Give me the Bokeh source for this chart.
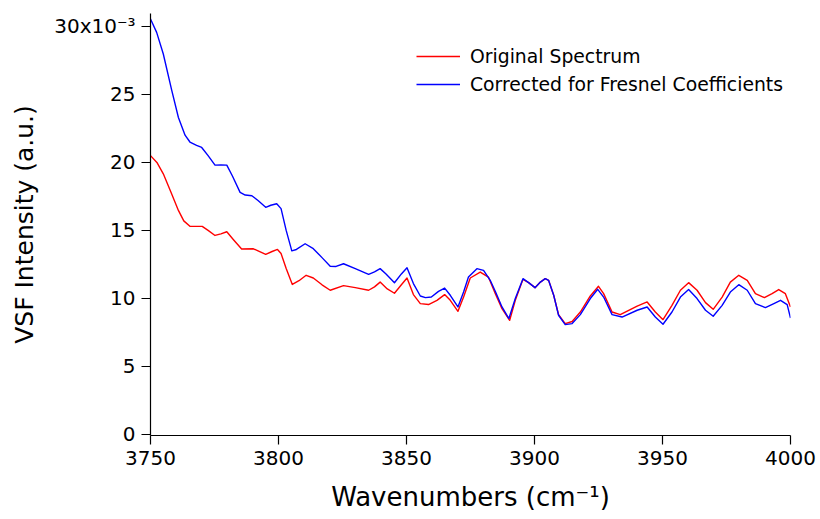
from bokeh.plotting import figure
from bokeh.models import Range1d, Legend, LegendItem, FixedTicker
from bokeh.embed import file_html
from bokeh.resources import INLINE

# Wavenumber (cm^-1) and VSF intensity (x10^-3)
x_corr = [3750, 3752.4, 3755, 3758.3, 3760.9, 3763.5, 3765.4, 3768, 3770, 3772.5, 3775.2, 3777.5,
          3779.8, 3782, 3785, 3787, 3789.6, 3792, 3795, 3797, 3799.3, 3801, 3803, 3805.2, 3807,
          3810.4, 3813.6, 3817, 3820.2, 3822.5, 3825.4, 3830, 3835.2, 3837.5, 3839.7, 3842,
          3845.3, 3848, 3850.2, 3852.7, 3855.4, 3857.4, 3859.7, 3862.5, 3864.9, 3867.1, 3870.1,
          3872.3, 3874.2, 3877.5, 3880.1, 3882.7, 3884.8, 3887.3, 3890, 3892.5, 3895.5, 3897.7,
          3900.2, 3902.3, 3904.2, 3905.5, 3907.5, 3909.4, 3912, 3914.7, 3917.9, 3921.8, 3924.7,
          3927, 3930.3, 3934.2, 3940.1, 3944, 3947.2, 3950.2, 3953.7, 3957, 3960.2, 3963.5,
          3966.8, 3969.8, 3973.3, 3976.5, 3979.8, 3983.1, 3986.3, 3990.2, 3993.5, 3996.1,
          3998.7, 4000]
y_corr = [30.55, 29.56, 27.97, 25.3, 23.3, 22.0, 21.5, 21.25, 21.1, 20.5, 19.8, 19.82,
          19.8, 19.0, 17.8, 17.6, 17.55, 17.2, 16.7, 16.85, 16.96, 16.6, 15.0, 13.5, 13.6,
          14.02, 13.66, 13.0, 12.36, 12.35, 12.55, 12.19, 11.77, 11.95, 12.19, 11.8,
          11.15, 11.8, 12.26, 11.09, 10.18, 10.06, 10.1, 10.52, 10.76, 10.23, 9.37,
          10.47, 11.57, 12.19, 12.06, 11.33, 10.47, 9.37, 8.52, 9.99, 11.45, 11.16,
          10.79, 11.2, 11.45, 11.33, 10.23, 8.76, 8.07, 8.15, 8.81, 9.99, 10.67,
          10.1, 8.81, 8.63, 9.13, 9.37, 8.63, 8.1, 9.0, 10.1, 10.65, 9.99,
          9.13, 8.69, 9.49, 10.47, 11.01, 10.6, 9.62, 9.32, 9.62, 9.86,
          9.54, 8.56]

x_orig = [3750, 3752.5, 3755, 3758, 3760.9, 3763, 3765.4, 3768, 3770.2, 3772.5, 3775.2, 3777.5,
          3779.8, 3782.5, 3785.6, 3790.2, 3795, 3797.5, 3799.6, 3801, 3803, 3805.4, 3808,
          3810.8, 3813.6, 3817, 3820.2, 3825.4, 3830, 3835.2, 3837.5, 3839.7, 3842.5, 3845.3,
          3848, 3850.2, 3852.7, 3855.4, 3858.6, 3861.9, 3864.9, 3867.1, 3870.1, 3872.3, 3874.9,
          3878.8, 3882, 3884.7, 3887.3, 3890.3, 3892.5, 3895.5, 3897.7, 3900.2, 3902.3, 3904.2,
          3905.5, 3907.5, 3909.4, 3912, 3914.7, 3917.9, 3921.8, 3925, 3927, 3930.3, 3933.5,
          3940.1, 3944, 3947.2, 3950.2, 3953.7, 3957, 3960.2, 3963.5, 3966.8, 3969.8, 3973.3,
          3976.5, 3979.8, 3983.1, 3986.3, 3989.8, 3992.8, 3995.4, 3998, 4000]
y_orig = [20.5, 20.0, 19.16, 17.8, 16.47, 15.7, 15.3, 15.3, 15.3, 15.0, 14.63, 14.75,
          14.9, 14.3, 13.63, 13.65, 13.24, 13.45, 13.6, 13.3, 12.2, 11.03, 11.3,
          11.7, 11.5, 11.0, 10.6, 10.94, 10.79, 10.6, 10.85, 11.2, 10.7, 10.38,
          11.0, 11.5, 10.28, 9.62, 9.55, 9.86, 10.28, 9.86, 9.05, 10.1, 11.5,
          11.94, 11.57, 10.35, 9.25, 8.39, 9.86, 11.4, 11.16, 10.79, 11.2, 11.45,
          11.33, 10.23, 8.8, 8.15, 8.3, 9.0, 10.18, 10.89, 10.35, 9.0, 8.81,
          9.44, 9.74, 9.0, 8.44, 9.49, 10.6, 11.16, 10.6, 9.69, 9.2, 10.1,
          11.2, 11.7, 11.33, 10.35, 10.06, 10.35, 10.65, 10.35, 9.37]

x_ticks = [3750, 3800, 3850, 3900, 3950, 4000]
y_ticks = [0, 5, 10, 15, 20, 25, 30]
y_tick_labels = {0: "0", 5: "5", 10: "10", 15: "15", 20: "20", 25: "25", 30: "30x10\u207b\u00b3"}

FONT = "DejaVu Sans"

p = figure(width=820, height=519, output_backend="svg", toolbar_location=None,
           x_range=Range1d(3750, 4000), y_range=Range1d(-0.08, 30.95),
           min_border_left=150, min_border_right=30, min_border_top=13, min_border_bottom=84)
p.outline_line_color = None
p.grid.visible = False
p.background_fill_color = "white"
p.border_fill_color = "white"

r_orig = p.line(x_orig, y_orig, line_color="#ff0000", line_width=1.4, line_join="round")
r_corr = p.line(x_corr, y_corr, line_color="#0000ff", line_width=1.4, line_join="round")

for ax in (p.xaxis[0], p.yaxis[0]):
    ax.axis_line_color = "black"
    ax.axis_line_width = 1.2
    ax.major_tick_line_color = "black"
    ax.major_tick_line_width = 1.2
    ax.major_tick_out = 9
    ax.major_tick_in = 0
    ax.minor_tick_line_color = None
    ax.major_label_text_font = FONT
    ax.major_label_text_font_size = "20px"
    ax.major_label_text_color = "black"
    ax.axis_label_text_font = FONT
    ax.axis_label_text_font_style = "normal"
    ax.axis_label_text_color = "black"

p.xaxis.axis_label_text_font_size = "26px"
p.yaxis.axis_label_text_font_size = "25px"
p.xaxis.ticker = FixedTicker(ticks=x_ticks)
p.yaxis.ticker = FixedTicker(ticks=y_ticks)
p.yaxis.major_label_overrides = y_tick_labels
p.xaxis.axis_label = "Wavenumbers (cm\u207b\u00b9)"
p.yaxis.axis_label = "VSF Intensity (a.u.)"
p.xaxis.major_label_standoff = 6
p.yaxis.major_label_standoff = 6
p.xaxis.axis_label_standoff = 14
p.yaxis.axis_label_standoff = 12

legend = Legend(items=[LegendItem(label="Original Spectrum", renderers=[r_orig]),
                       LegendItem(label="Corrected for Fresnel Coefficients", renderers=[r_corr])],
                location=(266, 337), padding=0, margin=0, spacing=0,
                glyph_width=44, glyph_height=28, label_height=28, label_standoff=10,
                label_text_font=FONT, label_text_font_size="18.8px", label_text_color="black",
                border_line_color=None, background_fill_alpha=0)
p.add_layout(legend, "center")

open("out.html", "w").write(file_html(p, INLINE))
